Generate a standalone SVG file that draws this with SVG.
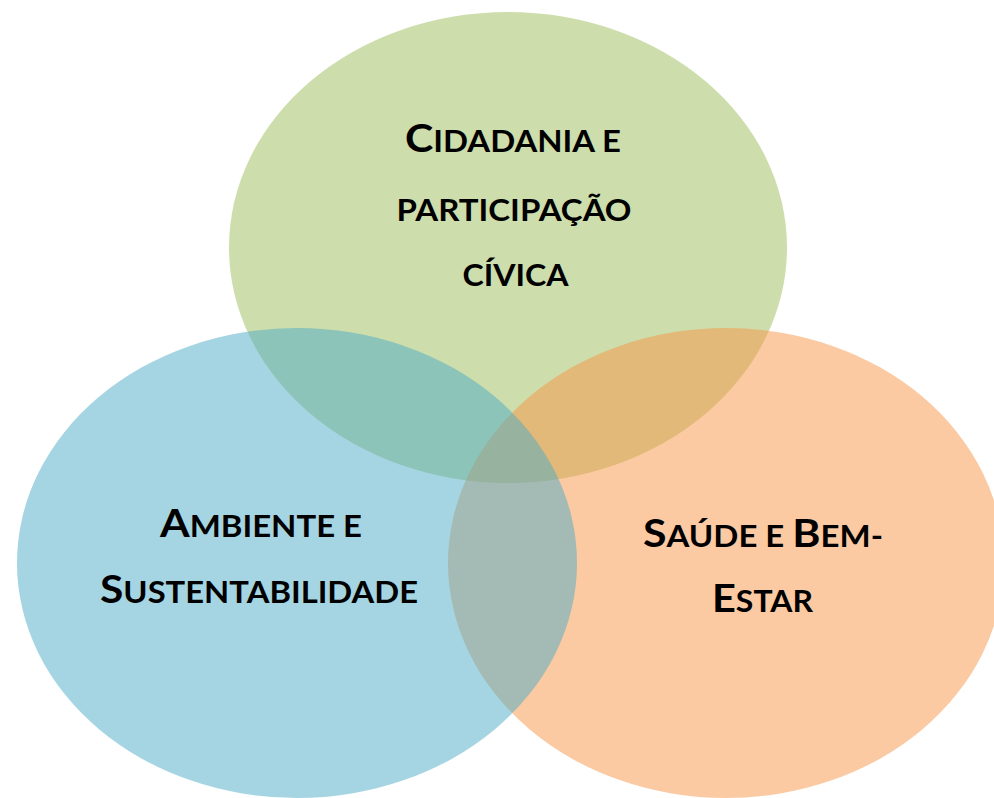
<svg xmlns="http://www.w3.org/2000/svg" width="994" height="798" viewBox="0 0 994 798">
<style>
.lbl{font-family:Lato,"Open Sans","Liberation Sans",sans-serif;font-weight:bold;fill:#000;text-anchor:middle;font-size:30px}
.big{font-size:39px}
.c{fill-opacity:0.5}
</style>
<rect width="994" height="798" fill="#fff"/>
<g id="civic">
<ellipse class="c" cx="508" cy="247.5" rx="279" ry="235.5" fill="#9BBB59"/>
</g>
<g id="health">
<ellipse class="c" cx="726" cy="563" rx="278" ry="235" fill="#F79646"/>
</g>
<g id="environment">
<ellipse class="c" cx="297" cy="563" rx="280" ry="235" fill="#4BACC6"/>
</g>
<g id="labels">
<text class="lbl" x="513" y="152" textLength="216" lengthAdjust="spacingAndGlyphs"><tspan class="big">C</tspan>IDADANIA E</text>
<text class="lbl" x="514" y="221" textLength="235" lengthAdjust="spacingAndGlyphs">PARTICIPAÇÃO</text>
<text class="lbl" x="515.5" y="286" textLength="106" lengthAdjust="spacingAndGlyphs">CÍVICA</text>
<text class="lbl" x="261" y="537" textLength="202" lengthAdjust="spacingAndGlyphs"><tspan class="big">A</tspan>MBIENTE E</text>
<text class="lbl" x="259" y="603" textLength="318" lengthAdjust="spacingAndGlyphs"><tspan class="big">S</tspan>USTENTABILIDADE</text>
<text class="lbl" x="763" y="547" textLength="240" lengthAdjust="spacingAndGlyphs"><tspan class="big">S</tspan>AÚDE E <tspan class="big">B</tspan>EM-</text>
<text class="lbl" x="762.5" y="612" textLength="101" lengthAdjust="spacingAndGlyphs"><tspan class="big">E</tspan>STAR</text>
</g>
</svg>
